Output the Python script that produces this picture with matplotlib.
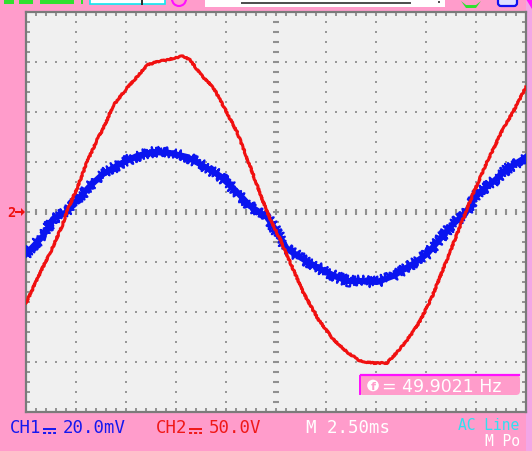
import numpy as np
import matplotlib
matplotlib.use("Agg")
import matplotlib.pyplot as plt
from matplotlib.patches import Rectangle, FancyBboxPatch, Circle, Polygon

# CH2 (red), time in ms, value in V
ch2_t = [0.0, 0.05, 0.85, 1.3, 1.8, 2.1, 2.6, 3.05, 3.6, 3.85, 4.35, 5.0, 5.55, 6.05,
         6.7, 7.45, 7.85, 8.2, 8.8, 9.35, 9.95, 10.55, 11.2, 11.8, 12.2, 12.7, 13.2,
         13.85, 14.6, 15.35, 16.05, 16.7, 17.35, 18.05, 18.7, 19.35, 19.7, 20.3, 21.2,
         21.85, 22.35, 23.05, 23.85, 24.35, 25.0]
ch2_v = [-91, -89, -55, -37, -14, 3, 26, 50, 74, 83, 106, 123, 135, 147,
         151, 154, 156, 152, 136, 125, 103, 80, 46, 13, -7, -27, -50,
         -80, -107, -127, -140, -149, -151, -151, -137, -120, -109, -85, -40,
         -7, 18, 50, 83, 100, 125]
# CH1 (blue), time in ms, value in mV
ch1_t = [0.0, 0.1, 0.85, 1.35, 2.05, 2.6, 3.2, 3.85, 4.7, 5.55, 6.35, 7.2, 8.05, 8.7,
         9.7, 10.55, 11.2, 12.05, 12.55, 13.05, 13.85, 14.7, 15.55, 16.1, 16.7, 17.55,
         18.35, 19.35, 20.05, 20.7, 21.35, 21.95, 22.55, 23.35, 24.05, 24.85, 25.0]
ch1_v = [-16.8, -16.0, -9.6, -2.8, 0.0, 5.2, 10.4, 15.2, 19.2, 22.4, 24.0, 23.6, 22.0, 19.2,
         14.4, 8.0, 2.4, -2.0, -8.0, -14.8, -18.8, -22.8, -26.0, -27.6, -27.6, -28.0,
         -25.6, -20.8, -16.8, -10.8, -4.8, -0.8, 7.2, 12.0, 17.2, 21.2, 22.0]

ch1_scale = 20.0   # mV / div
ch2_scale = 50.0   # V / div
time_scale = 2.5   # ms / div
ch1_name, ch1_setting = "CH1", "20.0mV"
ch2_name, ch2_setting = "CH2", "50.0V"
time_label = "M 2.50ms"
freq_label = "= 49.9021 Hz"
trig_label = "AC Line"
mode_label = "M Po"

# ---------------- figure ----------------
W, H = 532, 452
PINK = "#FF9CCB"
fig = plt.figure(figsize=(W / 100, H / 100), dpi=100)
fig.patch.set_facecolor(PINK)

def px_axes(z):
    a = fig.add_axes([0, 0, 1, 1], zorder=z)
    a.set_xlim(0, W)
    a.set_ylim(H, 0)
    a.axis("off")
    a.patch.set_alpha(0)
    return a

bg = px_axes(0)
bg.add_patch(Rectangle((526, 0), 6, H, color="#F2A6E6", lw=0))

# main plot area: x 26..526, y 13..413
L, T, R, B = 26, 13, 526, 413
ax = fig.add_axes([L / W, (H - B) / H, (R - L) / W, (B - T) / H], zorder=1)
ax.set_facecolor("#F0F0F0")
ax.set_xlim(0, 10)
ax.set_ylim(-4, 4)
for s in ax.spines.values():
    s.set_color("#7A7A7A")
    s.set_linewidth(1.6)

ax.set_xticks(np.arange(0, 10.01, 1.0))
ax.set_yticks(np.arange(-4, 4.01, 1.0))
ax.set_xticks(np.arange(0, 10.01, 0.2), minor=True)
ax.set_yticks(np.arange(-4, 4.01, 0.2), minor=True)
ax.tick_params(which="both", direction="in", length=3.2, width=1.1, color="#7A7A7A",
               top=True, right=True, labelbottom=False, labelleft=False)

# dotted graticule
fine_y = np.arange(-4, 4.001, 0.2)
fine_x = np.arange(0, 10.001, 0.2)
dot_kw = dict(marker="s", s=2.8, color="#989898", linewidths=0, zorder=1)
for gx in [1, 2, 3, 4, 6, 7, 8, 9]:
    ax.scatter(np.full_like(fine_y, gx), fine_y, **dot_kw)
for gy in [-3, -2, -1, 1, 2, 3]:
    ax.scatter(fine_x, np.full_like(fine_x, gy), **dot_kw)
ax.plot(fine_x, np.zeros_like(fine_x), ls="none", marker="|", ms=4.0, mew=1.5,
        color="#909090", zorder=1)
ax.plot(np.full_like(fine_y, 5), fine_y, ls="none", marker="_", ms=4.5, mew=1.5,
        color="#909090", zorder=1)

# waveforms
x1 = np.array(ch1_t) / time_scale
y1 = np.array(ch1_v) / ch1_scale
x2 = np.array(ch2_t) / time_scale
y2 = np.array(ch2_v) / ch2_scale

ax.plot(x1, y1, color="#0A14F0", lw=4.4, zorder=3)
fuzz, = ax.plot(x1, y1, color="#0A14F0", lw=1.6, zorder=3)
fuzz.set_sketch_params(scale=5.5, length=1.2, randomness=3.0)
red, = ax.plot(x2, y2, color="#F01010", lw=2.2, zorder=4)
red.set_sketch_params(scale=0.6, length=3.0, randomness=4.0)

# ---------------- overlay ----------------
ov = px_axes(2)
mono = dict(family="DejaVu Sans Mono", fontsize=12.5, va="center")
mono_small = dict(family="DejaVu Sans Mono", fontsize=10.5, va="center")

# channel 2 reference marker
ov.text(7, 213, "2", color="#F01010", fontsize=10, fontweight="bold",
        family="DejaVu Sans Mono", va="center", ha="left")
ov.add_patch(Polygon([[15, 212], [21, 212], [21, 209], [25, 213], [21, 217], [21, 214], [15, 214]],
                     closed=True, color="#F01010", lw=0))

# top strip
for x0, x1_ in [(4, 14), (19, 33), (40, 74)]:
    ov.add_patch(Rectangle((x0, 0), x1_ - x0, 5, color="#30E030", lw=0))
ov.add_patch(Rectangle((81, 0), 2, 5, color="#30E030", lw=0))
ov.add_patch(Rectangle((90, -2), 75, 7, facecolor="white", edgecolor="#10E8F0", lw=1.2))
ov.add_patch(Rectangle((141, 0), 2, 6, color="#303030", lw=0))
ov.add_patch(Circle((179, 0), 7, facecolor="none", edgecolor="#FF10FF", lw=1.5))
ov.add_patch(Rectangle((205, 0), 240, 8, color="white", lw=0))
ov.add_patch(Rectangle((241, 3), 170, 2, color="#505050", lw=0))
ov.add_patch(Rectangle((438, 2), 2, 2, color="#505050", lw=0))
ov.add_patch(Polygon([[461, 2], [466, 9], [476, 9], [481, 2], [476, 6], [466, 6]],
                     closed=True, color="#30E030", lw=0))
ov.add_patch(FancyBboxPatch((498, -3), 19, 10, boxstyle="round,pad=0,rounding_size=3",
                            facecolor="#E0E0FF", edgecolor="#1010F0", lw=1.6))
ov.add_patch(Polygon([[526, 0], [532, 0], [532, 10]], closed=True, color="#FF10FF", lw=0))

# frequency readout box
ov.add_patch(FancyBboxPatch((359, 376), 161, 20, boxstyle="round,pad=0,rounding_size=4",
                            facecolor=PINK, edgecolor="none"))
ov.plot([361, 519], [376, 376], color="#FF10FF", lw=1.6)
ov.plot([359.5, 359.5], [377, 395], color="#FF10FF", lw=1.4)
ov.add_patch(Circle((373, 386.5), 5.8, facecolor="white", edgecolor="none"))
ov.text(373, 387, "f", color=PINK, fontsize=8, fontweight="bold", ha="center", va="center")
ov.text(382, 387, freq_label, color="white", family="DejaVu Sans", fontsize=12.5,
        va="center", ha="left")

# bottom readouts (DC-coupling symbol drawn as solid-over-dashed lines)
def channel_readout(x, name, setting, color):
    ov.text(x, 428, name, color=color, ha="left", **mono)
    sx = x + 33
    ov.plot([sx, sx + 13], [430, 430], color=color, lw=1.4, solid_capstyle="butt")
    ov.plot([sx, sx + 13], [434, 434], color=color, lw=1.4, ls=(0, (1.6, 1.0)),
            dash_capstyle="butt")
    ov.text(x + 53, 428, setting, color=color, ha="left", **mono)

channel_readout(10, ch1_name, ch1_setting, "#1418F0")
channel_readout(156, ch2_name, ch2_setting, "#F01818")
ov.text(306, 428, time_label, color="white", ha="left", **mono)
ov.text(458, 426, trig_label, color="#30E0F0", ha="left", **mono_small)
ov.text(485, 442, mode_label, color="white", ha="left", **mono_small)

fig.savefig("out.png", dpi=100, facecolor=PINK)
